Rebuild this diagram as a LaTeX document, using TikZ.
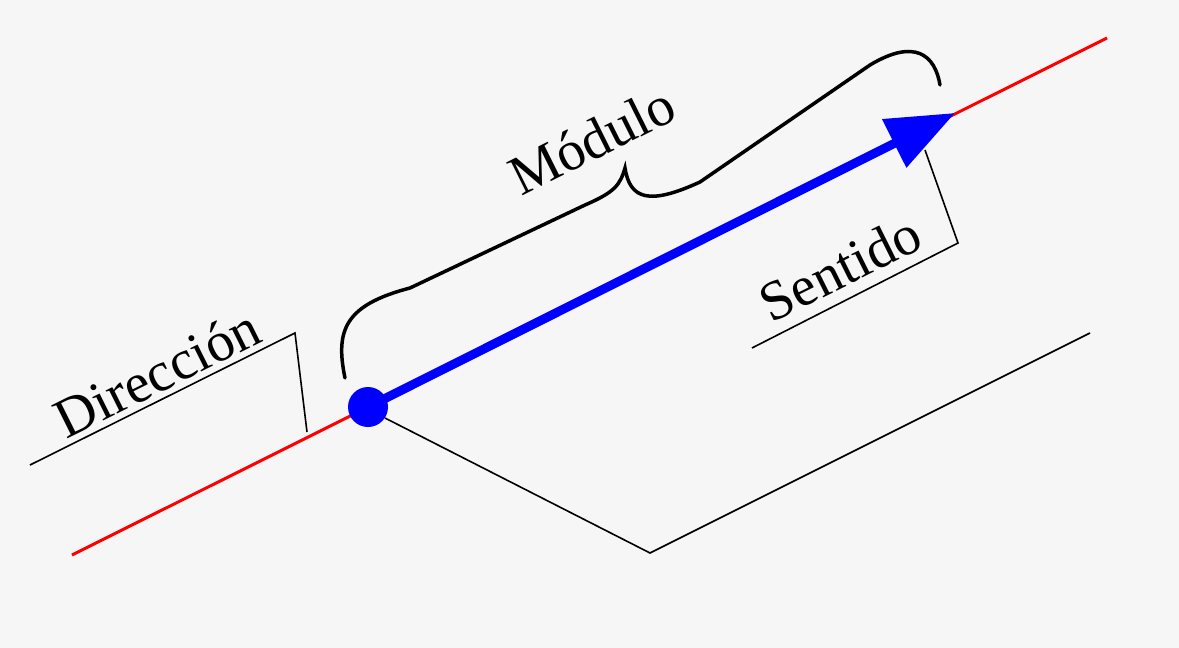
\documentclass[tikz,border=0pt]{standalone}
\usepackage{fontspec}
\setmainfont{Liberation Serif}
\usetikzlibrary{arrows.meta}
\begin{document}
\begin{tikzpicture}[x=1pt,y=-1pt,
  thin/.style={black,line width=1.6pt},
  lbl/.style={font=\fontsize{56}{56}\selectfont,rotate=26.5,inner sep=0pt}]
\useasboundingbox[fill={rgb,255:red,246;green,246;blue,247}] (0,0) rectangle (1179,648);
\coordinate (r1) at (72,555); \coordinate (r2) at (1107,38);
\coordinate (o) at (368,407); \coordinate (e) at (955,113);
\draw[red,line width=3pt] (r1) -- (r2);
\draw[blue,line width=9pt,-{Triangle[length=68pt,width=52pt]}] (o) -- (e);
\node[circle,fill=blue,minimum size=40pt,inner sep=0pt] (dot) at (o) {};
% brace
\draw[black,line width=3.5pt,line cap=round] (345,378) .. controls (335,330) and (345,305) .. (410,288)
 -- (585,205) .. controls (615,192) and (620,185) .. (625,168)
 .. controls (630,200) and (650,205) .. (700,182) -- (870,65)
 .. controls (915,38) and (935,55) .. (940,85);
\node[lbl] (mod) at (592,140) {Módulo};
% Dirección
\coordinate (d1) at (30,465); \coordinate (d2) at (295,333); \coordinate (d3) at (307,432);
\draw[thin] (d1) -- (d2) -- (d3);
\node[lbl] (dir) at (157,373) {Dirección};
% Sentido
\coordinate (s1) at (752,348); \coordinate (s2) at (958,243); \coordinate (s3) at (925,150);
\draw[thin] (s1) -- (s2) -- (s3);
\node[lbl] (sen) at (840,268) {Sentido};
% bottom
\coordinate (b1) at (385,418); \coordinate (b2) at (650,553); \coordinate (b3) at (1090,333);
\draw[thin] (b1) -- (b2) -- (b3);
\end{tikzpicture}
\end{document}
